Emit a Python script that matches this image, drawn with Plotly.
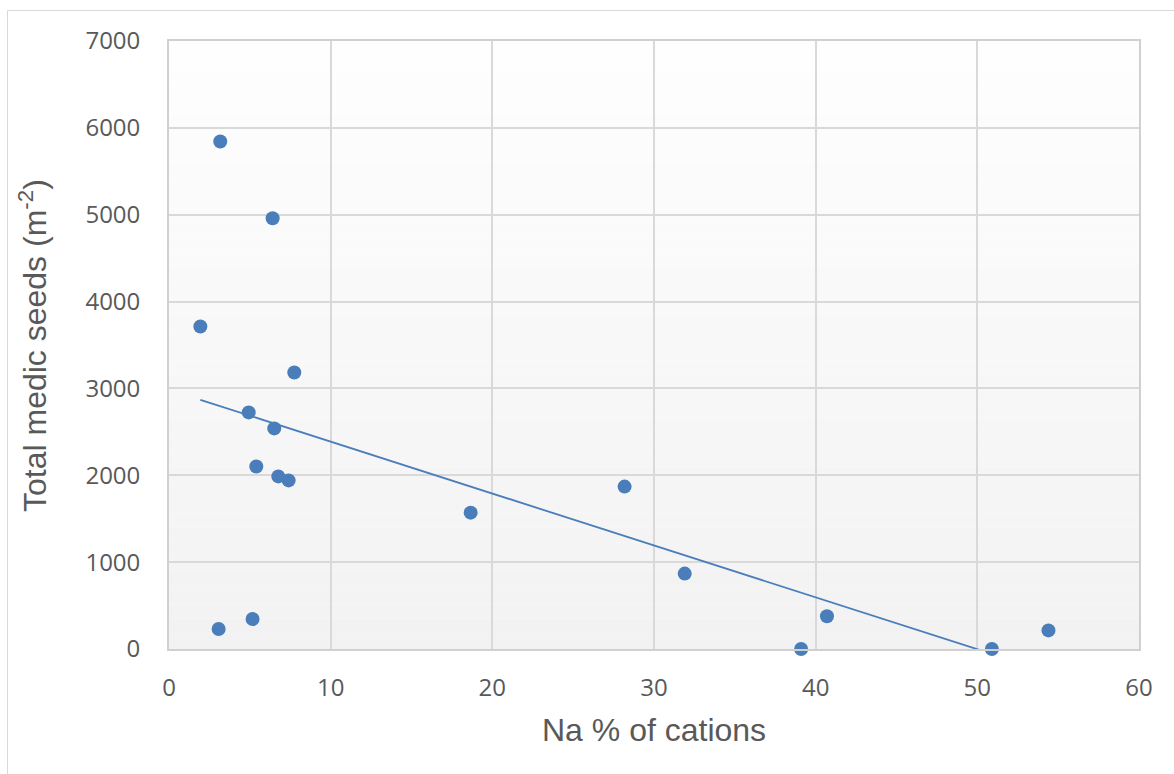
import numpy as np
import plotly.graph_objects as go

# Data
na_pct = [3.17, 6.41, 1.94, 7.75, 4.93, 6.51, 5.40, 6.76, 7.40, 18.66, 28.18,
          31.9, 39.1, 40.7, 50.9, 54.4, 3.07, 5.17]
medic_seeds = [5843, 4959, 3713, 3184, 2724, 2540, 2102, 1987, 1941, 1570, 1870,
               868, 0, 377, 0, 214, 230, 345]

x_ticks = [0, 10, 20, 30, 40, 50, 60]
y_ticks = [0, 1000, 2000, 3000, 4000, 5000, 6000, 7000]

# Linear trendline (least squares)
slope, intercept = np.polyfit(na_pct, medic_seeds, 1)
trend_x = [min(na_pct), max(na_pct)]
trend_y = [slope * v + intercept for v in trend_x]

W, H = 1174, 774
ML, MR, MT, MB = 169, 35, 41, 125
PW, PH = W - ML - MR, H - MT - MB

def px_x(p):
    return (p - ML) / PW

def px_y(p):
    return (H - MB - p) / PH

tick_font = dict(family="Open Sans", size=24, color="#595959")
title_font = dict(family="Liberation Sans, Arial", size=32, color="#595959")
grid = "#d9d9d9"

fig = go.Figure()
fig.add_trace(go.Scatter(x=trend_x, y=trend_y, mode="lines",
                         line=dict(color="#4a7ebb", width=1.8),
                         hoverinfo="skip", showlegend=False))
fig.add_trace(go.Scatter(x=na_pct, y=medic_seeds, mode="markers",
                         marker=dict(color="#4a7ebb", size=14, line=dict(width=0)),
                         showlegend=False, cliponaxis=False))

# Gradient plot background (below gridlines)
shapes = []
n = 40
top = np.array([254, 254, 254])
bot = np.array([242, 242, 242])
for i in range(n):
    t = (i + 0.5) / n
    c = top + (bot - top) * t
    shapes.append(dict(type="rect", xref="paper", yref="paper",
                       x0=0, x1=1, y0=1 - (i + 1) / n, y1=1 - i / n,
                       fillcolor="rgb(%d,%d,%d)" % tuple(c.round().astype(int)),
                       line=dict(width=0), layer="below"))
# Outer chart border
shapes.append(dict(type="rect", xref="paper", yref="paper",
                   x0=px_x(7.5), x1=px_x(1185), y0=px_y(785), y1=px_y(10.5),
                   line=dict(color="#d9d9d9", width=1), fillcolor="rgba(0,0,0,0)",
                   layer="above"))

fig.update_layout(
    width=W, height=H,
    margin=dict(l=ML, r=MR, t=MT, b=MB, pad=0),
    paper_bgcolor="white", plot_bgcolor="rgba(0,0,0,0)",
    shapes=shapes,
    xaxis=dict(range=[0, 60], tickvals=x_ticks, showgrid=True, gridcolor=grid,
               gridwidth=1.5, zeroline=False, showline=True, mirror=True,
               linecolor="#d0d0d0", linewidth=1.8, ticks="", tickfont=tick_font,
               ticklabelstandoff=16, fixedrange=True),
    yaxis=dict(range=[0, 7000], tickvals=y_ticks, showgrid=True, gridcolor=grid,
               gridwidth=1.5, zeroline=False, showline=True, mirror=True,
               linecolor="#d0d0d0", linewidth=1.8, ticks="", tickfont=tick_font,
               ticklabelstandoff=22, fixedrange=True),
    annotations=[
        dict(text="Na % of cations", xref="paper", yref="paper",
             x=px_x(654), y=px_y(730), xanchor="center", yanchor="middle",
             showarrow=False, font=title_font),
        dict(text="Total medic seeds (m<sup>-2</sup>)", xref="paper", yref="paper",
             x=px_x(33), y=px_y(346), xanchor="center", yanchor="middle",
             textangle=-90, showarrow=False, font=title_font),
    ],
)

fig.write_html("out.html")
